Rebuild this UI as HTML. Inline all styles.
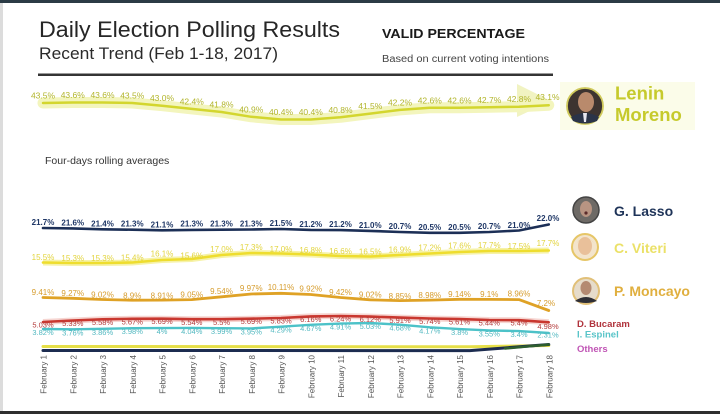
<!DOCTYPE html>
<html><head><meta charset="utf-8"><style>
html,body{margin:0;padding:0;background:#fff;}
svg{display:block;}
text{font-family:"Liberation Sans",Arial,sans-serif;}
</style></head><body>
<svg width="720" height="414" viewBox="0 0 720 414" xmlns="http://www.w3.org/2000/svg">
<rect x="0" y="0" width="720" height="414" fill="#ffffff"/>
<rect x="0" y="0" width="720" height="3" fill="#2b3b45"/>
<rect x="0" y="3" width="3" height="409" fill="#dcdcdc"/>
<rect x="0" y="411" width="720" height="3" fill="#2e2e2e"/>

<!-- header -->
<text x="39" y="37" font-size="22.5" fill="#262626" textLength="301" lengthAdjust="spacingAndGlyphs">Daily Election Polling Results</text>
<text x="39" y="59" font-size="16.5" fill="#2a2a2a" textLength="239" lengthAdjust="spacingAndGlyphs">Recent Trend (Feb 1-18, 2017)</text>
<text x="382" y="38" font-size="13" font-weight="bold" fill="#1a1a1a" textLength="143" lengthAdjust="spacingAndGlyphs">VALID PERCENTAGE</text>
<text x="382" y="62" font-size="10" fill="#444" textLength="167" lengthAdjust="spacingAndGlyphs">Based on current voting intentions</text>
<rect x="38" y="73.5" width="515" height="2.5" fill="#343434"/>

<!-- Lenin -->
<rect x="560" y="82" width="135" height="48" fill="#fbfce9"/>
<polygon points="517,84 551,101 517,117" fill="#f1f3c2"/>
<polyline fill="none" stroke="#f3f5bd" stroke-width="11" stroke-linejoin="round" stroke-linecap="round" points="43,103 72.75,102.5 102.5,102.5 132.25,103 162,105.7 191.75,108.9 221.5,112 251.25,116.8 281,119.5 310.75,119.5 340.5,117.3 370.25,113.6 400,109.9 429.75,107.8 459.5,107.8 489.25,107.3 519,106.7 548.75,105.2"/>
<polyline fill="none" stroke="#d3d62e" stroke-width="2.5" stroke-linejoin="round" stroke-linecap="round" points="43,103 72.75,102.5 102.5,102.5 132.25,103 162,105.7 191.75,108.9 221.5,112 251.25,116.8 281,119.5 310.75,119.5 340.5,117.3 370.25,113.6 400,109.9 429.75,107.8 459.5,107.8 489.25,107.3 519,106.7 548.75,105.2"/>
<g font-size="8.5" fill="#b2b52c" text-anchor="middle">
<text x="43" y="98.5">43.5%</text><text x="72.75" y="98">43.6%</text><text x="102.5" y="98">43.6%</text><text x="132.25" y="98.5">43.5%</text><text x="162" y="101.2">43.0%</text><text x="191.75" y="104.4">42.4%</text><text x="221.5" y="107.5">41.8%</text><text x="251.25" y="112.3">40.9%</text><text x="281" y="115">40.4%</text><text x="310.75" y="115">40.4%</text><text x="340.5" y="112.8">40.8%</text><text x="370.25" y="109.1">41.5%</text><text x="400" y="105.4">42.2%</text><text x="429.75" y="103.3">42.6%</text><text x="459.5" y="103.3">42.6%</text><text x="489.25" y="102.8">42.7%</text><text x="519" y="102.2">42.8%</text><text x="547.5" y="100">43.1%</text>
</g>
<circle cx="585" cy="106" r="18" fill="#3d3430" stroke="#cfc95a" stroke-width="1.8"/>
<ellipse cx="586" cy="102" rx="8" ry="10" fill="#b98a6c"/>
<path d="M571,117 Q585,109 599,117 L597,121 Q585,126 573,121 Z" fill="#2a3448"/>
<path d="M583,113 L587,113 L586,122 L584,122 Z" fill="#e8e8f0"/>
<text x="615" y="99.5" font-size="18.5" font-weight="bold" fill="#c6ca2c">Lenin</text>
<text x="615" y="121" font-size="18.5" font-weight="bold" fill="#c6ca2c">Moreno</text>

<text x="45" y="164" font-size="10.5" fill="#333">Four-days rolling averages</text>

<!-- Lasso -->
<polyline fill="none" stroke="#1c2f56" stroke-width="2.6" stroke-linejoin="round" stroke-linecap="round" points="43,228 72.75,228.4 102.5,229.3 132.25,229.7 162,230.3 191.75,229.9 221.5,229.7 251.25,229.5 281,229 310.75,229.9 340.5,230.1 370.25,230.9 400,232 429.75,232.8 459.5,232.8 489.25,232 519,230.5 548.75,224.5"/>
<g font-size="8" fill="#1f3766" text-anchor="middle" font-weight="bold">
<text x="43" y="225">21.7%</text><text x="72.75" y="225.4">21.6%</text><text x="102.5" y="226.3">21.4%</text><text x="132.25" y="226.7">21.3%</text><text x="162" y="227.5">21.1%</text><text x="191.75" y="226.7">21.3%</text><text x="221.5" y="226.7">21.3%</text><text x="251.25" y="226.7">21.3%</text><text x="281" y="225.8">21.5%</text><text x="310.75" y="227.1">21.2%</text><text x="340.5" y="227.1">21.2%</text><text x="370.25" y="227.9">21.0%</text><text x="400" y="229.2">20.7%</text><text x="429.75" y="230">20.5%</text><text x="459.5" y="230">20.5%</text><text x="489.25" y="229.2">20.7%</text><text x="519" y="227.9">21.0%</text><text x="548" y="221">22.0%</text>
</g>

<!-- Viteri -->
<polyline fill="none" stroke="#f6f2a8" stroke-width="6" stroke-linejoin="round" points="43,262.5 72.75,263 102.5,263 132.25,262.5 162,260 191.75,259 221.5,255 251.25,253 281,253.5 310.75,254.5 340.5,256 370.25,256.5 400,255 429.75,253.5 459.5,252 489.25,251 519,251 548.75,250.5"/>
<polyline fill="none" stroke="#eedd2e" stroke-width="2.6" stroke-linejoin="round" stroke-linecap="round" points="43,262.5 72.75,263 102.5,263 132.25,262.5 162,260 191.75,259 221.5,255 251.25,253 281,253.5 310.75,254.5 340.5,256 370.25,256.5 400,255 429.75,253.5 459.5,252 489.25,251 519,251 548.75,250.5"/>
<g font-size="8" fill="#e2d43e" text-anchor="middle">
<text x="43" y="260">15.5%</text><text x="72.75" y="261.1">15.3%</text><text x="102.5" y="261.1">15.3%</text><text x="132.25" y="260.6">15.4%</text><text x="162" y="256.7">16.1%</text><text x="191.75" y="258.5">15.6%</text><text x="221.5" y="251.8">17.0%</text><text x="251.25" y="250.1">17.3%</text><text x="281" y="251.8">17.0%</text><text x="310.75" y="252.9">16.8%</text><text x="340.5" y="254">16.6%</text><text x="370.25" y="254.5">16.5%</text><text x="400" y="252.3">16.9%</text><text x="429.75" y="250.7">17.2%</text><text x="459.5" y="248.5">17.6%</text><text x="489.25" y="247.9">17.7%</text><text x="519" y="249">17.5%</text><text x="548" y="246">17.7%</text>
</g>

<!-- Moncayo -->
<polyline fill="none" stroke="#dfa226" stroke-width="2.8" stroke-linejoin="round" stroke-linecap="round" points="43,297.5 72.75,298.3 102.5,299.5 132.25,300.2 162,300.1 191.75,299.6 221.5,296.8 251.25,294 281,293.3 310.75,294.5 340.5,297.5 370.25,299.8 400,300.6 429.75,300.1 459.5,299.3 489.25,299.4 519,299.6 548.75,310.5"/>
<g font-size="8" fill="#d69c2c" text-anchor="middle">
<text x="43" y="295">9.41%</text><text x="72.75" y="296">9.27%</text><text x="102.5" y="297.7">9.02%</text><text x="132.25" y="298.6">8.9%</text><text x="162" y="298.5">8.91%</text><text x="191.75" y="297.5">9.05%</text><text x="221.5" y="294.1">9.54%</text><text x="251.25" y="291.1">9.97%</text><text x="281" y="290.1">10.11%</text><text x="310.75" y="291.4">9.92%</text><text x="340.5" y="294.9">9.42%</text><text x="370.25" y="297.7">9.02%</text><text x="400" y="298.9">8.85%</text><text x="429.75" y="298">8.98%</text><text x="459.5" y="296.9">9.14%</text><text x="489.25" y="297.2">9.1%</text><text x="519" y="296.5">8.96%</text><text x="546" y="306">7.2%</text>
</g>

<!-- Bucaram -->
<polyline fill="none" stroke="#f6d6d2" stroke-width="6" stroke-linejoin="round" points="43,322 72.75,320.5 102.5,319.3 132.25,318.8 162,318.7 191.75,319.2 221.5,319.2 251.25,318.7 281,318 310.75,316.4 340.5,316 370.25,316.6 400,317.6 429.75,318.5 459.5,319.1 489.25,320 519,320.2 548.75,322.3"/>
<polyline fill="none" stroke="#c9372f" stroke-width="2.6" stroke-linejoin="round" stroke-linecap="round" points="43,322 72.75,320.5 102.5,319.3 132.25,318.8 162,318.7 191.75,319.2 221.5,319.2 251.25,318.7 281,318 310.75,316.4 340.5,316 370.25,316.6 400,317.6 429.75,318.5 459.5,319.1 489.25,320 519,320.2 548.75,322.3"/>
<!-- Espinel -->
<polyline fill="none" stroke="#4cc2c8" stroke-width="2.4" stroke-linejoin="round" stroke-linecap="round" points="43,329 72.75,329.3 102.5,328.8 132.25,328.2 162,328.1 191.75,327.9 221.5,328.2 251.25,328.4 281,326.7 310.75,324.8 340.5,323.6 370.25,323 400,324.7 429.75,327.3 459.5,329.1 489.25,330.4 519,331.1 548.75,333"/>
<g font-size="7.5" fill="#b33a3a" text-anchor="middle">
<text x="43" y="327.5">5.03%</text><text x="72.75" y="326">5.33%</text><text x="102.5" y="324.8">5.58%</text><text x="132.25" y="324.3">5.67%</text><text x="162" y="324.2">5.69%</text><text x="191.75" y="325">5.54%</text><text x="221.5" y="325.2">5.5%</text><text x="251.25" y="324.2">5.69%</text><text x="281" y="323.5">5.83%</text><text x="310.75" y="321.9">6.16%</text><text x="340.5" y="321.5">6.24%</text><text x="370.25" y="322.1">6.12%</text><text x="400" y="323.1">5.91%</text><text x="429.75" y="324">5.74%</text><text x="459.5" y="324.6">5.61%</text><text x="489.25" y="325.5">5.44%</text><text x="519" y="325.7">5.4%</text><text x="548" y="329">4.98%</text>
</g>
<g font-size="7.5" fill="#52b8c0" text-anchor="middle">
<text x="43" y="335">3.82%</text><text x="72.75" y="335.3">3.76%</text><text x="102.5" y="334.8">3.86%</text><text x="132.25" y="334.2">3.98%</text><text x="162" y="334.1">4%</text><text x="191.75" y="333.9">4.04%</text><text x="221.5" y="334.2">3.99%</text><text x="251.25" y="334.4">3.95%</text><text x="281" y="332.7">4.29%</text><text x="310.75" y="330.8">4.67%</text><text x="340.5" y="329.6">4.91%</text><text x="370.25" y="329">5.03%</text><text x="400" y="330.7">4.68%</text><text x="429.75" y="333.3">4.17%</text><text x="459.5" y="335.1">3.8%</text><text x="489.25" y="336.4">3.55%</text><text x="519" y="337">3.4%</text><text x="548" y="337.5">2.31%</text>
</g>

<!-- Others -->
<polyline fill="none" stroke="#e6df48" stroke-width="3" stroke-linecap="round" points="43,346.5 470,346.8 548.75,345.5"/>
<polyline fill="none" stroke="#1c2c50" stroke-width="3" stroke-linecap="round" points="43,350.5 470,350.6 548.75,344.5"/>
<polyline fill="none" stroke="#2e5e2e" stroke-width="2.5" stroke-linecap="round" points="505,348.5 548.75,344.5"/>

<!-- x labels -->
<g font-size="8" fill="#555" text-anchor="end">
<text transform="translate(46.5,355) rotate(-90)">February 1</text>
<text transform="translate(76.25,355) rotate(-90)">February 2</text>
<text transform="translate(106,355) rotate(-90)">February 3</text>
<text transform="translate(135.75,355) rotate(-90)">February 4</text>
<text transform="translate(165.5,355) rotate(-90)">February 5</text>
<text transform="translate(195.25,355) rotate(-90)">February 6</text>
<text transform="translate(225,355) rotate(-90)">February 7</text>
<text transform="translate(254.75,355) rotate(-90)">February 8</text>
<text transform="translate(284.5,355) rotate(-90)">February 9</text>
<text transform="translate(314.25,355) rotate(-90)">February 10</text>
<text transform="translate(344,355) rotate(-90)">February 11</text>
<text transform="translate(373.75,355) rotate(-90)">February 12</text>
<text transform="translate(403.5,355) rotate(-90)">February 13</text>
<text transform="translate(433.25,355) rotate(-90)">February 14</text>
<text transform="translate(463,355) rotate(-90)">February 15</text>
<text transform="translate(492.75,355) rotate(-90)">February 16</text>
<text transform="translate(522.5,355) rotate(-90)">February 17</text>
<text transform="translate(552.25,355) rotate(-90)">February 18</text>
</g>

<!-- right legend -->
<circle cx="586" cy="210" r="13" fill="#6e6a66" stroke="#444" stroke-width="1.5"/>
<ellipse cx="586" cy="209" rx="6" ry="8" fill="#b89482"/>
<circle cx="586" cy="213" r="1.6" fill="#5a2a2a"/>
<text x="614" y="216" font-size="14" font-weight="bold" fill="#1e3358">G. Lasso</text>

<circle cx="585" cy="247" r="13" fill="#f3e4cc" stroke="#e6c667" stroke-width="2"/>
<ellipse cx="585" cy="246" rx="7" ry="9" fill="#e9c09a"/>
<path d="M577,243 Q585,233 594,243 Q590,238 585,238 Q580,238 577,243 Z" fill="#e3c678"/>
<text x="614" y="253" font-size="14" font-weight="bold" fill="#ebe168">C. Viteri</text>

<circle cx="586" cy="291" r="13" fill="#e6dccb" stroke="#e1c078" stroke-width="2"/>
<ellipse cx="586" cy="288" rx="5.5" ry="7" fill="#b48a72"/>
<path d="M575,301 Q586,293 597,301 Q586,305 575,301 Z" fill="#2f2f36"/>
<text x="614" y="296" font-size="14" font-weight="bold" fill="#e0af3e">P. Moncayo</text>

<text x="577" y="327" font-size="9.5" font-weight="bold" fill="#b0333c">D. Bucaram</text>
<text x="577" y="337.5" font-size="9.5" font-weight="bold" fill="#58c4c8">I. Espinel</text>
<text x="577" y="352" font-size="9.5" font-weight="bold" fill="#c055b5">Others</text>
</svg>
</body></html>
